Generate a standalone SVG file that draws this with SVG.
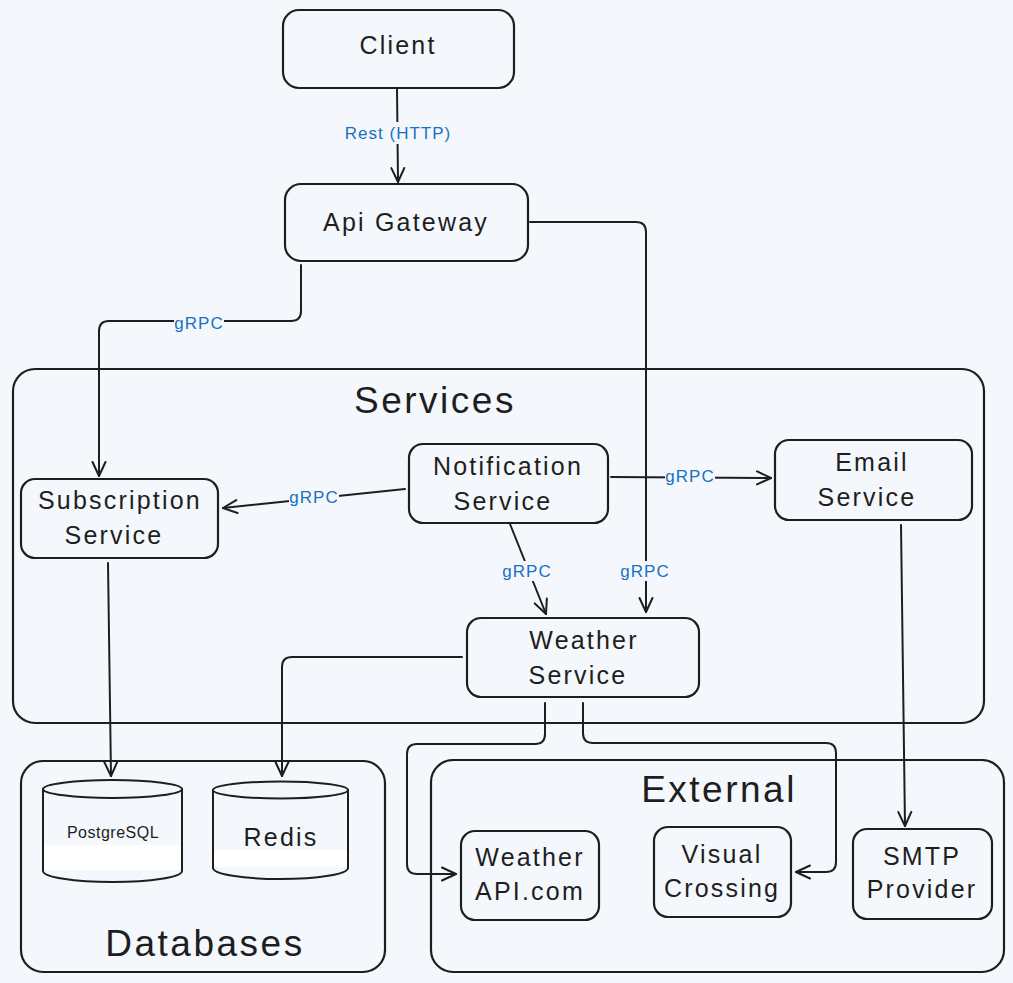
<svg xmlns="http://www.w3.org/2000/svg" width="1013" height="983" viewBox="0 0 1013 983">
<defs>
<marker id="arr" viewBox="-16 -8 18 16" refX="0" refY="0" markerWidth="18" markerHeight="16" markerUnits="userSpaceOnUse" orient="auto">
<path d="M-14,-6.5 L0,0 L-14,6.5" fill="none" stroke="#1e1e1e" stroke-width="2" stroke-linecap="round" stroke-linejoin="round"/>
</marker>
</defs>
<style>
.box{fill:none;stroke:#1e1e1e;stroke-width:2.2}
.cont{fill:none;stroke:#1e1e1e;stroke-width:2.2}
.t{font-family:"Liberation Sans",Arial,sans-serif;font-size:25px;fill:#1e1e1e;text-anchor:middle;dominant-baseline:central;letter-spacing:2.2px}
.title{font-family:"Liberation Sans",Arial,sans-serif;font-size:37px;fill:#1e1e1e;text-anchor:middle;dominant-baseline:central;letter-spacing:2.5px}
.lbl{font-family:"Liberation Sans",Arial,sans-serif;font-size:17px;fill:#1971c2;text-anchor:middle;dominant-baseline:central;letter-spacing:1px}
.lbg{fill:#f4f8fc}
.c{fill:none;stroke:#1e1e1e;stroke-width:2;stroke-linecap:round;stroke-linejoin:round}
</style>
<rect x="0" y="0" width="1013" height="983" fill="#f4f8fc"/>

<g id="services-container">
<rect class="cont" x="13" y="369" width="971" height="354" rx="22"/>
<text class="title" x="435" y="400">Services</text>
</g>
<g id="databases-container">
<rect class="cont" x="21" y="761" width="364" height="211" rx="22"/>
<text class="title" x="205" y="943">Databases</text>
</g>
<g id="external-container">
<rect class="cont" x="431" y="760" width="573" height="212" rx="22"/>
<text class="title" x="719" y="789">External</text>
</g>

<g id="connectors">
<path class="c" d="M397,88 L398,182" marker-end="url(#arr)"/>
<path class="c" d="M301,265 L301,311 Q301,321 291,321 L109,321 Q99,321 99,331 L99,476" marker-end="url(#arr)"/>
<path class="c" d="M530,222 L636,222 Q646,222 646,232 L646,612" marker-end="url(#arr)"/>
<path class="c" d="M405,489 L223,508" marker-end="url(#arr)"/>
<path class="c" d="M611,477 L771,478" marker-end="url(#arr)"/>
<path class="c" d="M510,524 L546,614" marker-end="url(#arr)"/>
<path class="c" d="M108,563 L111,776" marker-end="url(#arr)"/>
<path class="c" d="M462,657 L292,657 Q282,657 282,667 L282,776" marker-end="url(#arr)"/>
<path class="c" d="M545,703 L545,734 Q545,744 535,744 L417,744 Q407,744 407,754 L407,864 Q407,874 417,874 L456,874" marker-end="url(#arr)"/>
<path class="c" d="M583,703 L583,733 Q583,743 593,743 L826,743 Q836,743 836,753 L836,862 Q836,872 826,872 L796,872" marker-end="url(#arr)"/>
<path class="c" d="M901,525 L905,826" marker-end="url(#arr)"/>
<rect class="lbg" x="332" y="122" width="133" height="22"/>
<text class="lbl" x="398" y="133">Rest (HTTP)</text>
<rect class="lbg" x="174" y="313" width="50" height="20"/>
<text class="lbl" x="199" y="323">gRPC</text>
<rect class="lbg" x="620" y="561" width="50" height="20"/>
<text class="lbl" x="645" y="571">gRPC</text>
<rect class="lbg" x="289" y="487" width="50" height="20"/>
<text class="lbl" x="314" y="497">gRPC</text>
<rect class="lbg" x="665" y="466" width="50" height="20"/>
<text class="lbl" x="690" y="476">gRPC</text>
<rect class="lbg" x="502" y="561" width="50" height="20"/>
<text class="lbl" x="527" y="571">gRPC</text>
</g>

<g id="client">
<rect class="box" x="283" y="10" width="231" height="78" rx="16"/>
<text class="t" x="398" y="45">Client</text>
</g>
<g id="api-gateway">
<rect class="box" x="285" y="184" width="243" height="77" rx="16"/>
<text class="t" x="406" y="222">Api Gateway</text>
</g>
<g id="subscription-service">
<rect class="box" x="21" y="479" width="197" height="79" rx="14"/>
<text class="t" x="120" y="500">Subscription</text>
<text class="t" x="114" y="535">Service</text>
</g>
<g id="notification-service">
<rect class="box" x="409" y="444" width="199" height="79" rx="14"/>
<text class="t" x="508" y="466">Notification</text>
<text class="t" x="503" y="501">Service</text>
</g>
<g id="email-service">
<rect class="box" x="775" y="440" width="197" height="80" rx="14"/>
<text class="t" x="872" y="462">Email</text>
<text class="t" x="867" y="497">Service</text>
</g>
<g id="weather-service">
<rect class="box" x="467" y="618" width="232" height="79" rx="14"/>
<text class="t" x="584" y="640">Weather</text>
<text class="t" x="578" y="675">Service</text>
</g>
<g id="postgresql">
<rect x="44" y="845" width="138" height="25" fill="#ffffff"/>
<path class="c" d="M43,789 L43,871 A69.5,11 0 0 0 182,871 L182,789"/>
<ellipse class="c" cx="112.5" cy="789" rx="69.5" ry="9"/>
<text class="lbl" x="113" y="832" style="fill:#1e1e1e;font-size:16px;letter-spacing:0.5px">PostgreSQL</text>
</g>
<g id="redis">
<rect x="214" y="850" width="134" height="17" fill="#ffffff"/>
<path class="c" d="M213,790 L213,868 A67.5,11 0 0 0 348,868 L348,790"/>
<ellipse class="c" cx="280.5" cy="790" rx="67.5" ry="8.5"/>
<text class="t" x="281" y="837">Redis</text>
</g>
<g id="weather-api">
<rect class="box" x="461" y="831" width="138" height="89" rx="14"/>
<text class="t" x="530" y="857">Weather</text>
<text class="t" x="530" y="891">API.com</text>
</g>
<g id="visual-crossing">
<rect class="box" x="654" y="827" width="137" height="90" rx="14"/>
<text class="t" x="722" y="854">Visual</text>
<text class="t" x="722" y="888">Crossing</text>
</g>
<g id="smtp-provider">
<rect class="box" x="853" y="829" width="139" height="90" rx="14"/>
<text class="t" x="922" y="856">SMTP</text>
<text class="t" x="922" y="889">Provider</text>
</g>
</svg>
